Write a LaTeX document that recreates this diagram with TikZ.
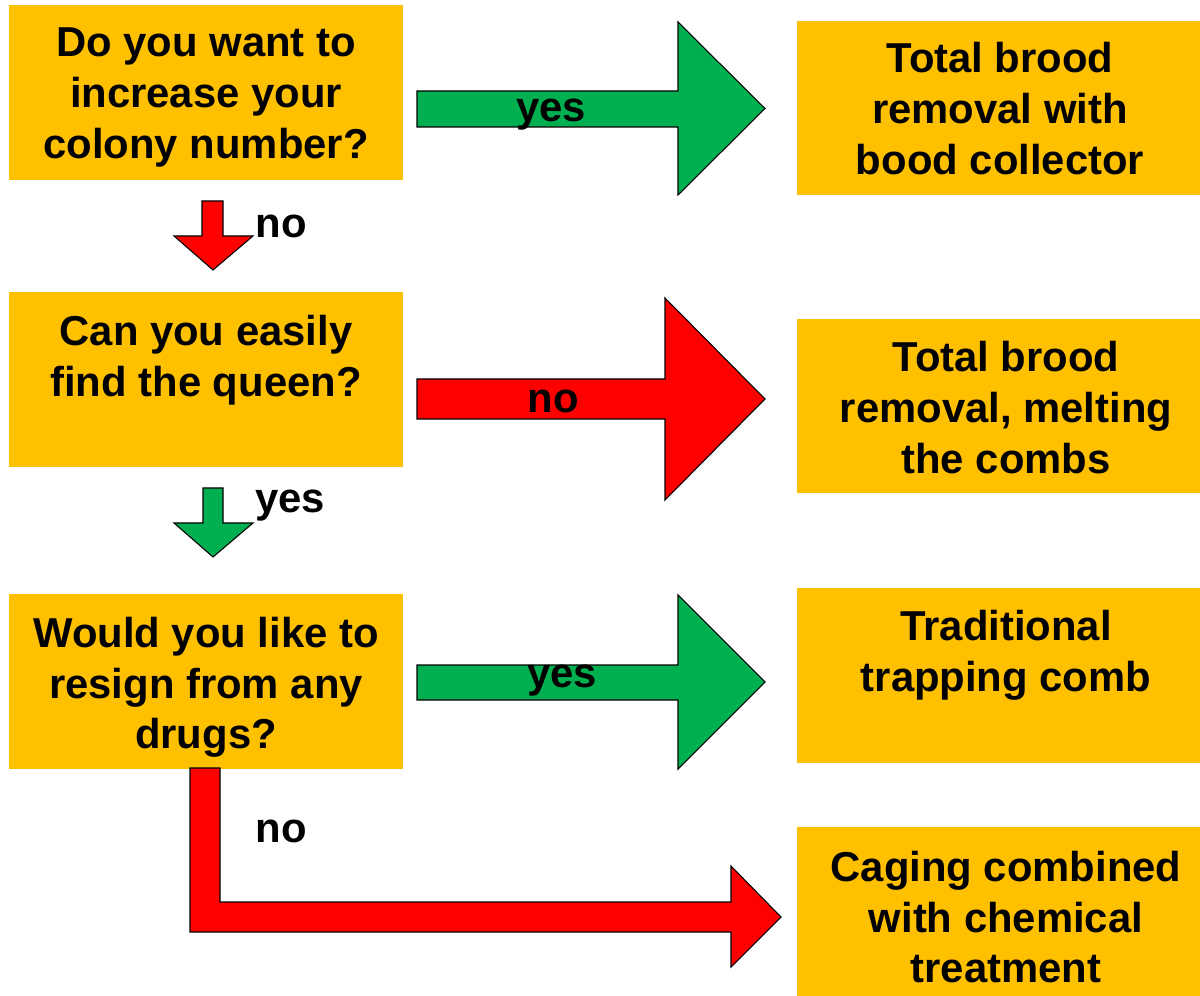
\documentclass[tikz,border=0pt]{standalone}
\usepackage{fontspec}
\setmainfont{Liberation Sans}
\usetikzlibrary{positioning}
\definecolor{boxorange}{HTML}{FFC000}
\definecolor{yesgreen}{HTML}{00B050}
\definecolor{nored}{HTML}{FF0000}
\begin{document}
\begin{tikzpicture}[x=0.02cm,y=-0.02cm]
      \tikzstyle{qbox}=[rectangle,fill=boxorange,inner sep=0pt,minimum width=7.88cm,minimum height=3.5cm]
      \tikzstyle{abox}=[qbox,minimum width=8.36cm]
      \tikzstyle{txt}=[align=center,inner sep=0pt,font=\fontsize{23.8}{28.9}\selectfont\bfseries]
      \tikzstyle{lbl}=[txt,anchor=base]
      \tikzstyle{yesarrow}=[fill=yesgreen,draw=black,line width=0.6pt]
      \tikzstyle{noarrow}=[fill=nored,draw=black,line width=0.6pt]
      \useasboundingbox (0,0) rectangle (1200,996);
      \foreach \n/\y in {q1/92.5,q2/379.5,q3/681.5} {\node[qbox] at (206,\y) (\n) {};}
      \foreach \n/\y in {a1/108,a2/406,a3/675.5,a4/914.5} {\node[abox] at (1006,\y) (\n) {};}
      \node[txt,below=0.46cm of q1.north] (q1t) {Do you want to\\increase your\\colony number?};
      \node[txt,below=0.46cm of q2.north] (q2t) {Can you easily\\find the queen?};
      \node[txt,below=0.46cm of q3.north] (q3t) {Would you like to\\resign from any\\drugs?};
      \node[txt,below=0.44cm of a1.north,xshift=-0.12cm] (a1t) {Total brood\\removal with\\bood collector};
      \node[txt,below=0.46cm of a2.north] (a2t) {Total brood\\removal, melting\\the combs};
      \node[txt,below=0.44cm of a3.north] (a3t) {Traditional\\trapping comb};
      \node[txt,below=0.48cm of a4.north] (a4t) {Caging combined\\with chemical\\treatment};
      \draw[yesarrow] (417,91) -- (678,91) -- (678,22) -- (765,108.5) -- (678,195) -- (678,127) -- (417,127) -- cycle;
      \draw[noarrow] (417,379) -- (665,379) -- (665,298) -- (765,399) -- (665,500) -- (665,419) -- (417,419) -- cycle;
      \draw[yesarrow] (417,665) -- (678,665) -- (678,595) -- (765,682) -- (678,769) -- (678,700) -- (417,700) -- cycle;
      \draw[noarrow] (202,201) -- (223,201) -- (223,236) -- (253,236) -- (213,270) -- (174,236) -- (202,236) -- cycle;
      \draw[yesarrow] (203,488) -- (223,488) -- (223,523) -- (253,523) -- (213,557) -- (174,523) -- (203,523) -- cycle;
      \draw[noarrow] (190,768) -- (220,768) -- (220,902) -- (731,902) -- (731,866) -- (781,917) -- (731,967) -- (731,932) -- (190,932) -- cycle;
      \node[lbl] at (551,122) (yes1) {yes};
      \node[lbl] at (553,413) (no1) {no};
      \node[lbl] at (562,687) (yes2) {yes};
      \node[lbl] at (281,238) (no2) {no};
      \node[lbl] at (290,513) (yes3) {yes};
      \node[lbl] at (281,842) (no3) {no};
    \end{tikzpicture}
\end{document}
